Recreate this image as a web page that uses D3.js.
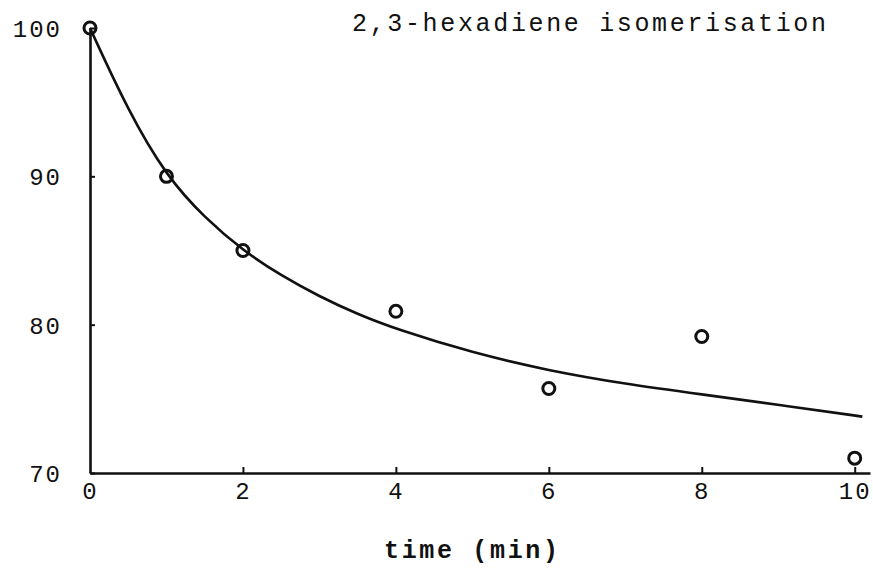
<!DOCTYPE html>
<html>
<head>
<meta charset="utf-8">
<script src="https://cdn.jsdelivr.net/npm/d3@7"></script>
<style>
  body { margin: 0; background: #fff; }
  svg text { font-family: "Liberation Mono", "DejaVu Sans Mono", monospace; fill: #111; }
</style>
</head>
<body>
<div id="chart"></div>
<script>
// measured points (time in min, % remaining)
var times = [0, 1, 2, 4, 6, 8, 10];
var values = [100, 90, 85, 80.9, 75.7, 79.2, 71.0];

// hand drawn fitted curve
var curveTimes = [0, 0.5, 1, 1.5, 2, 2.5, 3, 3.5, 4, 5, 6, 7, 8, 9, 10.1];
var curveValues = [100, 94.4, 90, 87.2, 85, 83.3, 81.9, 80.7, 79.7, 78.1, 76.9, 76.0, 75.3, 74.6, 73.8];

var xTicks = [0, 2, 4, 6, 8, 10];
var yTicks = [70, 80, 90, 100];

var svg = d3.select("#chart")
    .append("svg")
    .attr("width", 873)
    .attr("height", 579);

var xScale = d3.scaleLinear().domain([0, 10.2]).range([90, 870]),
    yScale = d3.scaleLinear().domain([70, 100]).range([473, 28]);

// x axis
var xAxis = svg.append("g")
    .attr("transform", "translate(0," + yScale(70) + ")")
    .call(d3.axisBottom(xScale).tickValues(xTicks).tickSize(-6).tickSizeOuter(0).tickPadding(12));

// y axis
var yAxis = svg.append("g")
    .attr("transform", "translate(" + xScale(0) + ",0)")
    .call(d3.axisLeft(yScale).tickValues(yTicks).tickSize(-5).tickSizeOuter(0).tickPadding(28));

[xAxis, yAxis].forEach(function(a) {
    a.select(".domain").attr("stroke", "#111").attr("stroke-width", 2.6);
    a.selectAll(".tick line").attr("stroke", "#111").attr("stroke-width", 2);
    a.selectAll(".tick text")
        .style("font-size", "24px")
        .style("letter-spacing", "2px")
        .attr("fill", "#111");
});
xAxis.selectAll(".tick").filter(function(d) { return d === 0; }).select("line").remove();
xAxis.selectAll(".tick text").attr("dy", "0.6em");
yAxis.selectAll(".tick text").attr("dy", "0.36em");

// fitted curve
var line = d3.line()
    .x(function(d) { return xScale(d[0]); })
    .y(function(d) { return yScale(d[1]); })
    .curve(d3.curveBasis);

svg.append("path")
    .datum(d3.zip(curveTimes, curveValues))
    .attr("d", line)
    .style("fill", "none")
    .style("stroke", "#111")
    .style("stroke-width", 2.6);

// data points
svg.append("g")
    .selectAll("circle")
    .data(d3.zip(times, values))
    .enter()
    .append("circle")
    .attr("cx", function(d) { return xScale(d[0]); })
    .attr("cy", function(d) { return yScale(d[1]); })
    .attr("r", 6)
    .style("fill", "none")
    .style("stroke", "#111")
    .style("stroke-width", 3);

// title
svg.append("text")
    .attr("x", 352)
    .attr("y", 31)
    .attr("textLength", 474)
    .attr("lengthAdjust", "spacing")
    .style("font-size", "25px")
    .text("2,3-hexadiene isomerisation");

// x label
svg.append("text")
    .attr("x", 384)
    .attr("y", 558)
    .attr("textLength", 174)
    .attr("lengthAdjust", "spacing")
    .style("font-size", "25px")
    .style("font-weight", "bold")
    .text("time (min)");
</script>
</body>
</html>
